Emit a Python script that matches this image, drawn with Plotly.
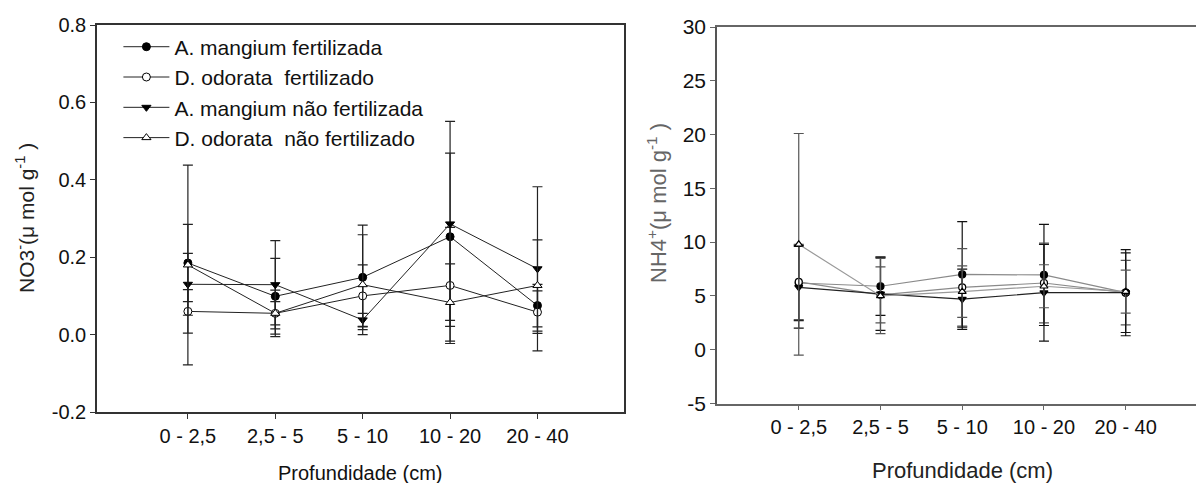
import plotly.graph_objects as go

categories = ["0 - 2,5", "2,5 - 5", "5 - 10", "10 - 20", "20 - 40"]
series_names = ["A. mangium fertilizada", "D. odorata\u00a0 fertilizado",
                "A. mangium não fertilizada", "D. odorata\u00a0 não fertilizado"]

# NO3- (left panel)
no3_am_fert = [0.185, 0.099, 0.148, 0.253, 0.075]
no3_am_fert_err = [0.100, 0.098, 0.135, 0.216, 0.055]
no3_do_fert = [0.060, 0.055, 0.100, 0.127, 0.058]
no3_do_fert_err = [0.056, 0.060, 0.080, 0.150, 0.055]
no3_am_nfert = [0.130, 0.129, 0.038, 0.286, 0.170]
no3_am_nfert_err = [0.080, 0.114, 0.017, 0.265, 0.212]
no3_do_nfert = [0.180, 0.055, 0.129, 0.083, 0.127]
no3_do_nfert_err = [0.258, 0.030, 0.129, 0.100, 0.118]

# NH4+ (right panel)
nh4_am_fert = [6.2, 5.9, 7.0, 6.95, 5.3]
nh4_am_fert_err = [3.5, 2.7, 4.9, 4.7, 4.0]
nh4_do_fert = [6.3, 5.1, 5.8, 6.2, 5.3]
nh4_do_fert_err = [3.5, 2.6, 3.6, 3.7, 3.0]
nh4_am_nfert = [5.8, 5.2, 4.7, 5.3, 5.3]
nh4_am_nfert_err = [3.8, 3.4, 2.8, 4.5, 3.7]
nh4_do_nfert = [9.8, 5.0, 5.4, 5.9, 5.4]
nh4_do_nfert_err = [10.3, 3.5, 2.4, 2.0, 2.0]

# tick labels
left_tickvals = [-0.2, 0.0, 0.2, 0.4, 0.6, 0.8]
left_ticktext = ["-0.2", "0.0", "0.2", "0.4", "0.6", "0.8"]
right_tickvals = [-5, 0, 5, 10, 15, 20, 25, 30]
right_ticktext = ["-5", "0", "5", "10", "15", "20", "25", "30"]

left_y = [no3_am_fert, no3_do_fert, no3_am_nfert, no3_do_nfert]
left_e = [no3_am_fert_err, no3_do_fert_err, no3_am_nfert_err, no3_do_nfert_err]
right_y = [nh4_am_fert, nh4_do_fert, nh4_am_nfert, nh4_do_nfert]
right_e = [nh4_am_fert_err, nh4_do_fert_err, nh4_am_nfert_err, nh4_do_nfert_err]

symbols = ["circle", "circle", "triangle-down", "triangle-up"]
fills = ["black", "white", "black", "white"]
right_line_colors = ["#8a8a8a", "#8a8a8a", "#222222", "#9a9a9a"]
right_err_colors = ["#111111", "#555555", "#111111", "#555555"]

FONT = "Liberation Sans, Arial, sans-serif"

fig = go.Figure()

for i in range(4):
    fig.add_trace(go.Scatter(
        x=categories, y=left_y[i], name=series_names[i],
        mode="lines+markers",
        line=dict(color="#222222", width=1),
        marker=dict(symbol=symbols[i], size=8, color=fills[i],
                    line=dict(color="black", width=1)),
        error_y=dict(type="data", array=left_e[i], color="#222222",
                     thickness=1.2, width=5),
        xaxis="x", yaxis="y", showlegend=True))

for i in range(4):
    fig.add_trace(go.Scatter(
        x=categories, y=right_y[i], name=series_names[i],
        mode="lines+markers",
        line=dict(color=right_line_colors[i], width=1.2),
        marker=dict(symbol=symbols[i], size=7, color=fills[i],
                    line=dict(color="black", width=1.2)),
        error_y=dict(type="data", array=right_e[i], color=right_err_colors[i],
                     thickness=1.2, width=5),
        xaxis="x2", yaxis="y2", showlegend=False))

fig.update_layout(
    width=1196, height=483,
    margin=dict(l=0, r=0, t=0, b=0),
    paper_bgcolor="white", plot_bgcolor="white",
    font=dict(family=FONT, size=18, color="#111111"),
    xaxis=dict(domain=[97/1196, 624/1196], type="category", range=[-1.04, 4.99],
               showline=True, linecolor="#333333", linewidth=1.5, mirror=True,
               ticks="outside", ticklen=5, tickcolor="#333333",
               showgrid=False, zeroline=False,
               tickfont=dict(family=FONT, size=20, color="#111111"),
               anchor="y", automargin=False),
    yaxis=dict(domain=[71/483, 458/483], range=[-0.2, 0.8],
               tickvals=left_tickvals, ticktext=left_ticktext,
               showline=True, linecolor="#333333", linewidth=1.5, mirror=True,
               ticks="outside", ticklen=5, tickcolor="#333333",
               showgrid=False, zeroline=False,
               tickfont=dict(family=FONT, size=20, color="#111111"),
               anchor="x", automargin=False),
    xaxis2=dict(domain=[717/1196, 1.0], type="category", range=[-1.0, 4.86],
                showline=True, linecolor="#666666", linewidth=1.5, mirror=True,
                ticks="outside", ticklen=5, tickcolor="#666666",
                showgrid=False, zeroline=False,
                tickfont=dict(family=FONT, size=20, color="#111111"),
                anchor="y2", automargin=False),
    yaxis2=dict(domain=[79.5/483, 456/483], range=[-5, 30],
                tickvals=right_tickvals, ticktext=right_ticktext,
                showline=True, linecolor="#555555", linewidth=1.5, mirror=False,
                ticks="outside", ticklen=5, tickcolor="#666666",
                showgrid=False, zeroline=False,
                tickfont=dict(family=FONT, size=21, color="#111111"),
                anchor="x2", automargin=False),
    legend=dict(x=0.099, y=0.945, xanchor="left", yanchor="top",
                bgcolor="rgba(0,0,0,0)", borderwidth=0,
                font=dict(family=FONT, size=21, color="#111111"),
                tracegroupgap=0, itemwidth=46),
    annotations=[
        dict(text="Profundidade (cm)", x=360/1196, y=(483-473)/483, xref="paper", yref="paper",
             xanchor="center", yanchor="middle",
             showarrow=False, font=dict(family=FONT, size=20, color="#111111")),
        dict(text="Profundidade (cm)", x=962/1196, y=(483-470)/483, xref="paper", yref="paper",
             xanchor="center", yanchor="middle",
             showarrow=False, font=dict(family=FONT, size=22, color="#222222")),
        dict(text="NO3<sup>-</sup>(μ mol g<sup>-1</sup> )", x=25/1196, y=(483-218)/483,
             xref="paper", yref="paper", textangle=-90, showarrow=False,
             xanchor="center", yanchor="middle",
             font=dict(family=FONT, size=21, color="#222222")),
        dict(text="NH4<sup>+</sup>(μ mol g<sup>-1</sup> )", x=657/1196, y=(483-203)/483,
             xref="paper", yref="paper", textangle=-90, showarrow=False,
             xanchor="center", yanchor="middle",
             font=dict(family=FONT, size=22, color="#666666")),
    ],
)

fig.write_html("out.html")
